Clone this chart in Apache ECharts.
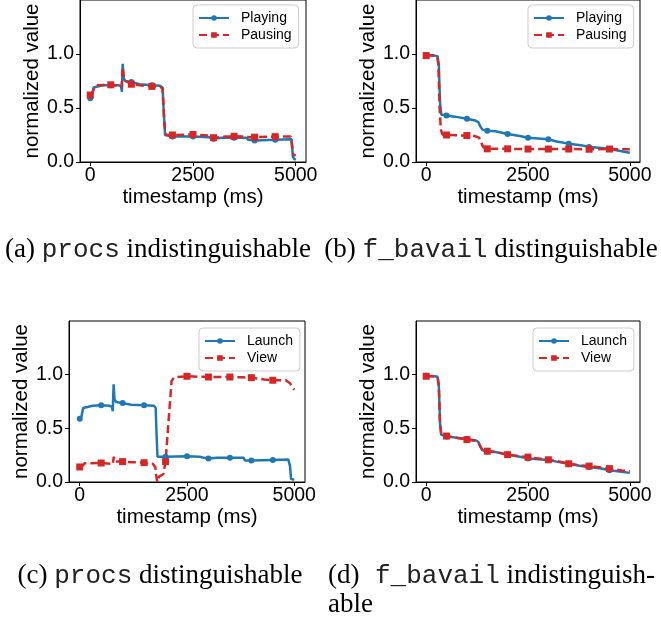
<!DOCTYPE html>
<html>
<head>
<meta charset="utf-8">
<script src="https://cdn.jsdelivr.net/npm/echarts@6/dist/echarts.min.js"></script>
<style>
html,body{margin:0;padding:0;background:#fff}
#main{width:661px;height:621px}
</style>
</head>
<body>
<div id="main"></div>
<script>
// timestamps that get a marker (markevery)
var markTimes = [0, 500, 1000, 1500, 2000, 2500, 3000, 3500, 4000, 4500];
var xTicks = [0, 2500, 5000];
var yTicks = [0, 0.5, 1.0];

// (a) procs, Playing vs Pausing
var procsPlaying = [[0,0.59],[40,0.61],[80,0.69],[120,0.70],[300,0.71],[500,0.71],[700,0.71],[750,0.70],[770,0.65],[790,0.91],[810,0.78],[850,0.75],[1000,0.74],[1200,0.72],[1500,0.71],[1700,0.705],[1760,0.69],[1790,0.45],[1820,0.25],[1850,0.235],[2000,0.235],[2500,0.235],[2900,0.23],[2950,0.215],[3000,0.215],[3200,0.225],[3500,0.225],[3800,0.225],[3840,0.205],[4000,0.20],[4500,0.205],[4900,0.21],[4930,0.05],[4960,0.03],[5000,0.02]];
var procsPausing = [[0,0.62],[60,0.65],[100,0.69],[150,0.71],[500,0.715],[700,0.705],[760,0.69],[790,0.88],[820,0.76],[1000,0.72],[1200,0.71],[1500,0.70],[1700,0.695],[1760,0.68],[1790,0.45],[1820,0.27],[1850,0.25],[2000,0.25],[2500,0.255],[2900,0.245],[2950,0.225],[3000,0.225],[3300,0.235],[3500,0.238],[3800,0.235],[3850,0.23],[4000,0.23],[4500,0.235],[4880,0.235],[4910,0.22],[4940,0.07],[5000,0.06]];

// (b) f_bavail, Playing vs Pausing
var bavailPlaying = [[0,0.99],[200,0.985],[280,0.98],[310,0.90],[340,0.55],[370,0.44],[500,0.43],[700,0.42],[1000,0.40],[1200,0.385],[1280,0.37],[1330,0.33],[1380,0.30],[1500,0.29],[1700,0.285],[2000,0.26],[2300,0.24],[2500,0.225],[3000,0.21],[3200,0.19],[3500,0.17],[3800,0.155],[4000,0.14],[4300,0.13],[4500,0.12],[4800,0.10],[5000,0.085]];
var bavailPausing = [[0,0.985],[200,0.985],[270,0.975],[300,0.90],[330,0.50],[360,0.30],[400,0.255],[500,0.25],[1000,0.245],[1200,0.24],[1300,0.225],[1350,0.18],[1400,0.14],[1450,0.125],[1500,0.122],[2000,0.122],[2500,0.12],[3000,0.12],[3500,0.12],[4000,0.118],[4500,0.12],[5000,0.118]];

// (c) procs, Launch vs View
var procsLaunch = [[0,0.59],[40,0.61],[80,0.69],[120,0.705],[300,0.71],[500,0.715],[700,0.71],[750,0.70],[770,0.66],[790,0.91],[810,0.77],[850,0.745],[1000,0.735],[1200,0.72],[1500,0.714],[1730,0.71],[1770,0.69],[1790,0.45],[1813,0.235],[2000,0.235],[2500,0.239],[2800,0.235],[2900,0.225],[3000,0.218],[3200,0.227],[3500,0.227],[3820,0.227],[3850,0.20],[4000,0.20],[4500,0.206],[4860,0.21],[4900,0.15],[4925,0.03],[5000,0.02]];
var procsView = [[0,0.14],[60,0.15],[120,0.175],[500,0.177],[700,0.17],[770,0.165],[795,0.235],[820,0.19],[1000,0.19],[1200,0.185],[1500,0.18],[1700,0.17],[1760,0.14],[1790,0.04],[1810,0.0],[1850,0.05],[1890,0.062],[1950,0.075],[1985,0.085],[2000,0.19],[2140,0.94],[2200,0.975],[2500,0.985],[3000,0.978],[3500,0.978],[3800,0.975],[4000,0.972],[4300,0.955],[4500,0.948],[4800,0.948],[4900,0.92],[5000,0.86]];

// (d) f_bavail, Launch vs View
var bavailLaunch = [[0,0.99],[200,0.985],[280,0.98],[310,0.90],[340,0.55],[370,0.44],[500,0.425],[700,0.415],[1000,0.40],[1200,0.39],[1280,0.375],[1330,0.33],[1380,0.295],[1500,0.285],[1700,0.28],[2000,0.255],[2300,0.235],[2500,0.22],[3000,0.205],[3200,0.19],[3500,0.17],[3800,0.15],[4000,0.14],[4300,0.125],[4500,0.11],[4800,0.095],[5000,0.085]];
var bavailView = [[0,0.985],[200,0.985],[280,0.975],[310,0.90],[340,0.55],[370,0.44],[500,0.428],[700,0.415],[1000,0.395],[1200,0.385],[1280,0.37],[1330,0.33],[1380,0.30],[1500,0.287],[1700,0.28],[2000,0.255],[2300,0.24],[2500,0.232],[3000,0.207],[3200,0.195],[3500,0.17],[3800,0.155],[4000,0.148],[4300,0.135],[4500,0.125],[4800,0.108],[5000,0.10]];

var BLUE = '#1f77b4', RED = '#d62728';
var SANS = 'Liberation Sans';

// points on markTimes get a symbol, the rest none
function withMarks(pts){
	var out = [];
	for (var i = 0; i < pts.length; i++) {
		var item = {value: pts[i]};
		if (markTimes.indexOf(pts[i][0]) < 0) item.symbol = 'none';
		out.push(item);
	}
	return out;
}

function blueSeries(name, pts, idx){
	return {
		type: 'line', name: name, xAxisIndex: idx, yAxisIndex: idx,
		data: withMarks(pts), symbol: 'circle', symbolSize: 6, showAllSymbol: true,
		lineStyle: {color: BLUE, width: 2.5}, itemStyle: {color: BLUE},
		emphasis: {disabled: true}
	};
}
function redSeries(name, pts, idx){
	return {
		type: 'line', name: name, xAxisIndex: idx, yAxisIndex: idx,
		data: withMarks(pts), symbol: 'rect', symbolSize: 7, showAllSymbol: true,
		lineStyle: {color: RED, width: 2.5, type: [8, 4]}, itemStyle: {color: RED},
		emphasis: {disabled: true}
	};
}

var grids = [
	{left: 80, top: 0, width: 226, height: 162},
	{left: 416, top: 0, width: 224, height: 162},
	{left: 69, top: 321, width: 236, height: 161},
	{left: 416, top: 321, width: 224, height: 161}
];

var xAxes = [], yAxes = [];
for (var g = 0; g < 4; g++) {
	grids[g].show = true;
	grids[g].borderColor = '#000';
	grids[g].borderWidth = 1;
	xAxes.push({
		type: 'value', gridIndex: g, min: -250, max: 5250,
		name: 'timestamp (ms)', nameLocation: 'middle', nameGap: 23,
		nameTextStyle: {fontFamily: SANS, fontSize: 20.5, color: '#000'},
		axisLine: {show: true, onZero: false, lineStyle: {color: '#000', width: 1}},
		axisTick: {show: true, inside: false, length: 4, customValues: xTicks, lineStyle: {color: '#000'}},
		axisLabel: {fontFamily: SANS, fontSize: 19.5, color: '#000', margin: 4, customValues: xTicks,
			formatter: function (v) { return String(v); }},
		splitLine: {show: false}
	});
	yAxes.push({
		type: 'value', gridIndex: g, min: 0, max: 1.5,
		name: 'normalized value', nameLocation: 'middle', nameGap: 35,
		nameTextStyle: {fontFamily: SANS, fontSize: 20.5, color: '#000'},
		axisLine: {show: true, onZero: false, lineStyle: {color: '#000', width: 1}},
		axisTick: {show: true, inside: false, length: 4, customValues: yTicks, lineStyle: {color: '#000'}},
		axisLabel: {fontFamily: SANS, fontSize: 19.5, color: '#000', margin: 6, customValues: yTicks,
			formatter: function (v) { return v.toFixed(1); }},
		splitLine: {show: false}
	});
}

function legendAt(left, top, names){
	return {
		left: left, top: top, orient: 'vertical', data: names,
		itemWidth: 30, itemHeight: 7, itemGap: 3,
		padding: [6, 7, 6, 5],
		backgroundColor: 'rgba(255,255,255,0.8)', borderColor: '#cccccc', borderWidth: 1, borderRadius: 4,
		selectedMode: false,
		textStyle: {fontFamily: SANS, fontSize: 14, color: '#000', padding: [0, 0, 0, 7]}
	};
}

var SERIF = 'Liberation Serif', MONO = 'Liberation Mono';
var capRich = {
	s: {fontFamily: SERIF, fontSize: 27, fill: '#000'},
	m: {fontFamily: MONO, fontSize: 26, fill: '#222'}
};
function caption(x, y, text, align){
	return {
		type: 'text', x: x, y: y,
		style: {text: text, rich: capRich, align: align, verticalAlign: 'middle',
			fontFamily: SERIF, fontSize: 27, fill: '#000'}
	};
}

var chart = echarts.init(document.getElementById('main'));
chart.setOption({
	animation: false,
	backgroundColor: '#fff',
	grid: grids,
	xAxis: xAxes,
	yAxis: yAxes,
	legend: [
		legendAt(193, 5, ['Playing', 'Pausing']),
		legendAt(528, 5, ['Playing', 'Pausing']),
		legendAt(199, 328, ['Launch', 'View']),
		legendAt(533, 328, ['Launch', 'View'])
	],
	series: [
		blueSeries('Playing', procsPlaying, 0),
		redSeries('Pausing', procsPausing, 0),
		blueSeries('Playing', bavailPlaying, 1),
		redSeries('Pausing', bavailPausing, 1),
		blueSeries('Launch', procsLaunch, 2),
		redSeries('View', procsView, 2),
		blueSeries('Launch', bavailLaunch, 3),
		redSeries('View', bavailView, 3)
	],
	graphic: [
		caption(158, 250, '{s|(a) }{m|procs}{s| indistinguishable}', 'center'),
		caption(491, 250, '{s|(b) }{m|f_bavail}{s| distinguishable}', 'center'),
		caption(160, 576, '{s|(c) }{m|procs}{s| distinguishable}', 'center'),
		caption(328, 576, '{s|(d)}', 'left'),
		caption(375, 576, '{m|f_bavail}', 'left'),
		caption(655, 576, '{s|indistinguish-}', 'right'),
		caption(328, 605, '{s|able}', 'left')
	]
});
</script>
</body>
</html>
